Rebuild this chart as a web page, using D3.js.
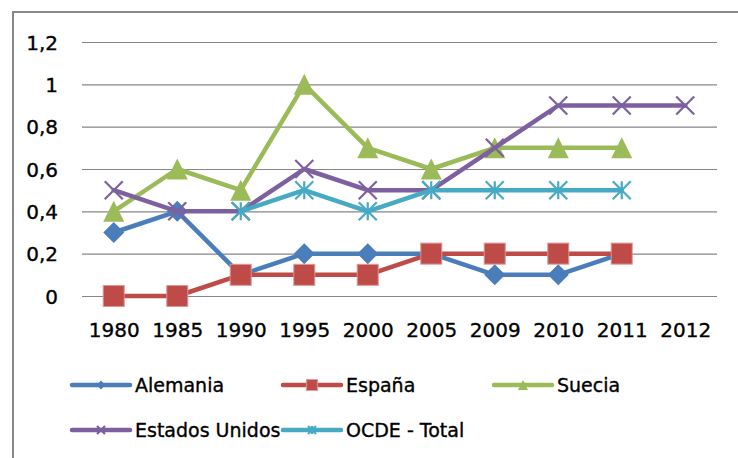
<!DOCTYPE html>
<html>
<head>
<meta charset="utf-8">
<script src="https://cdn.jsdelivr.net/npm/d3@7"></script>
<style>
  html, body { margin: 0; padding: 0; background: #ffffff; }
  svg { display: block; font-family: "DejaVu Sans", sans-serif; }
  text { stroke: #000; stroke-width: 0.35px; }
</style>
</head>
<body>
<svg id="chart" width="738" height="458"></svg>
<script>
const years = ["1980","1985","1990","1995","2000","2005","2009","2010","2011","2012"];
const alemania = [0.3, 0.4, 0.1, 0.2, 0.2, 0.2, 0.1, 0.1, 0.2, null];
const espana   = [0, 0, 0.1, 0.1, 0.1, 0.2, 0.2, 0.2, 0.2, null];
const suecia   = [0.4, 0.6, 0.5, 1.0, 0.7, 0.6, 0.7, 0.7, 0.7, null];
const eeuu     = [0.5, 0.4, 0.4, 0.6, 0.5, 0.5, 0.7, 0.9, 0.9, 0.9];
const ocde     = [null, null, 0.4, 0.5, 0.4, 0.5, 0.5, 0.5, 0.5, null];
const yTicks = [0, 0.2, 0.4, 0.6, 0.8, 1, 1.2];
const yTickLabels = ["0", "0,2", "0,4", "0,6", "0,8", "1", "1,2"];
const seriesNames = ["Alemania", "España", "Suecia", "Estados Unidos", "OCDE - Total"];
const seriesColors = ["#4A7EBB", "#BE4B48", "#9BBB59", "#7D60A0", "#46AAC5"];
const seriesMarkers = ["diamond", "square", "triangle", "x", "star"];
const seriesValues = [alemania, espana, suecia, eeuu, ocde];

const svg = d3.select("#chart");

// outer frame
svg.append("rect").attr("x", 13).attr("y", 12).attr("width", 800).attr("height", 600)
  .attr("fill", "none").attr("stroke", "#878787").attr("stroke-width", 2);

const x = d3.scalePoint().domain(years).range([82, 717]).padding(0.5);
const y = d3.scaleLinear().domain([0, 1.2]).range([296, 42]);

// y axis with gridlines
const yAxis = d3.axisLeft(y).tickValues(yTicks)
  .tickFormat((d, i) => yTickLabels[i])
  .tickSizeInner(-(717 - 82)).tickSizeOuter(0).tickPadding(24);
const gy = svg.append("g").attr("transform", "translate(82,0)").call(yAxis);
gy.select(".domain").remove();
gy.selectAll(".tick line").attr("stroke", "#868686").attr("stroke-width", 1.2);
gy.selectAll(".tick text").attr("fill", "#000").style("font-size", "20px")
  .style("font-family", "'DejaVu Sans', sans-serif").attr("dy", "0.36em");

// x axis labels
const xAxis = d3.axisBottom(x).tickSize(0).tickPadding(27);
const gx = svg.append("g").attr("transform", "translate(0,296)").call(xAxis);
gx.select(".domain").remove();
gx.selectAll(".tick text").attr("fill", "#000").style("font-size", "20px")
  .style("font-family", "'DejaVu Sans', sans-serif");

function markerPath(type, s) {
  const h = s / 2;
  switch (type) {
    case "diamond": return `M0,${-h}L${h},0L0,${h}L${-h},0Z`;
    case "square": return `M${-h},${-h}H${h}V${h}H${-h}Z`;
    case "triangle": return `M0,${-h}L${h},${h}L${-h},${h}Z`;
    case "x": return `M${-h},${-h}L${h},${h}M${h},${-h}L${-h},${h}`;
    case "star": return `M${-h},${-h}L${h},${h}M${h},${-h}L${-h},${h}M0,${-h}V${h}`;
  }
}
function drawMarker(g, type, color, s) {
  if (type === "x" || type === "star") {
    g.append("path").attr("d", markerPath(type, s)).attr("fill", "none")
      .attr("stroke", color).attr("stroke-width", 2.2);
  } else if (type === "square") {
    g.append("path").attr("d", markerPath(type, s)).attr("fill", color)
      .attr("stroke", "#D99694").attr("stroke-width", 1.2).attr("stroke-opacity", 0.8);
  } else {
    g.append("path").attr("d", markerPath(type, s)).attr("fill", color);
  }
}
const markerSizes = { diamond: 21, square: 21, triangle: 21, x: 18, star: 18 };

const line = d3.line().defined(d => d.v !== null).x(d => x(d.k)).y(d => y(d.v));

seriesValues.forEach((vals, si) => {
  const data = years.map((k, i) => ({ k, v: vals[i] }));
  const g = svg.append("g");
  g.append("path").datum(data).attr("d", line).attr("fill", "none")
    .attr("stroke", seriesColors[si]).attr("stroke-width", 4.5)
    .attr("stroke-linejoin", "round").attr("stroke-linecap", "round");
  data.filter(d => d.v !== null).forEach(d => {
    const mg = g.append("g").attr("transform", `translate(${x(d.k)},${y(d.v)})`);
    drawMarker(mg, seriesMarkers[si], seriesColors[si], markerSizes[seriesMarkers[si]]);
  });
});

// legend
const legendPos = [
  { lx: 72, ly: 385 }, { lx: 283, ly: 385 }, { lx: 494, ly: 385 },
  { lx: 72, ly: 430 }, { lx: 283, ly: 430 }
];
const legendMarkerSizes = { diamond: 9, square: 11, triangle: 10, x: 8, star: 8 };
seriesNames.forEach((name, si) => {
  const p = legendPos[si];
  const g = svg.append("g").attr("transform", `translate(${p.lx},${p.ly})`);
  g.append("line").attr("x1", 0).attr("x2", 58).attr("y1", 0).attr("y2", 0)
    .attr("stroke", seriesColors[si]).attr("stroke-width", 4.5).attr("stroke-linecap", "round");
  const mg = g.append("g").attr("transform", "translate(29,0)");
  drawMarker(mg, seriesMarkers[si], seriesColors[si], legendMarkerSizes[seriesMarkers[si]]);
  g.append("text").attr("x", 63).attr("y", 7).attr("fill", "#000")
    .style("font-size", "19px").text(name);
});
</script>
</body>
</html>
